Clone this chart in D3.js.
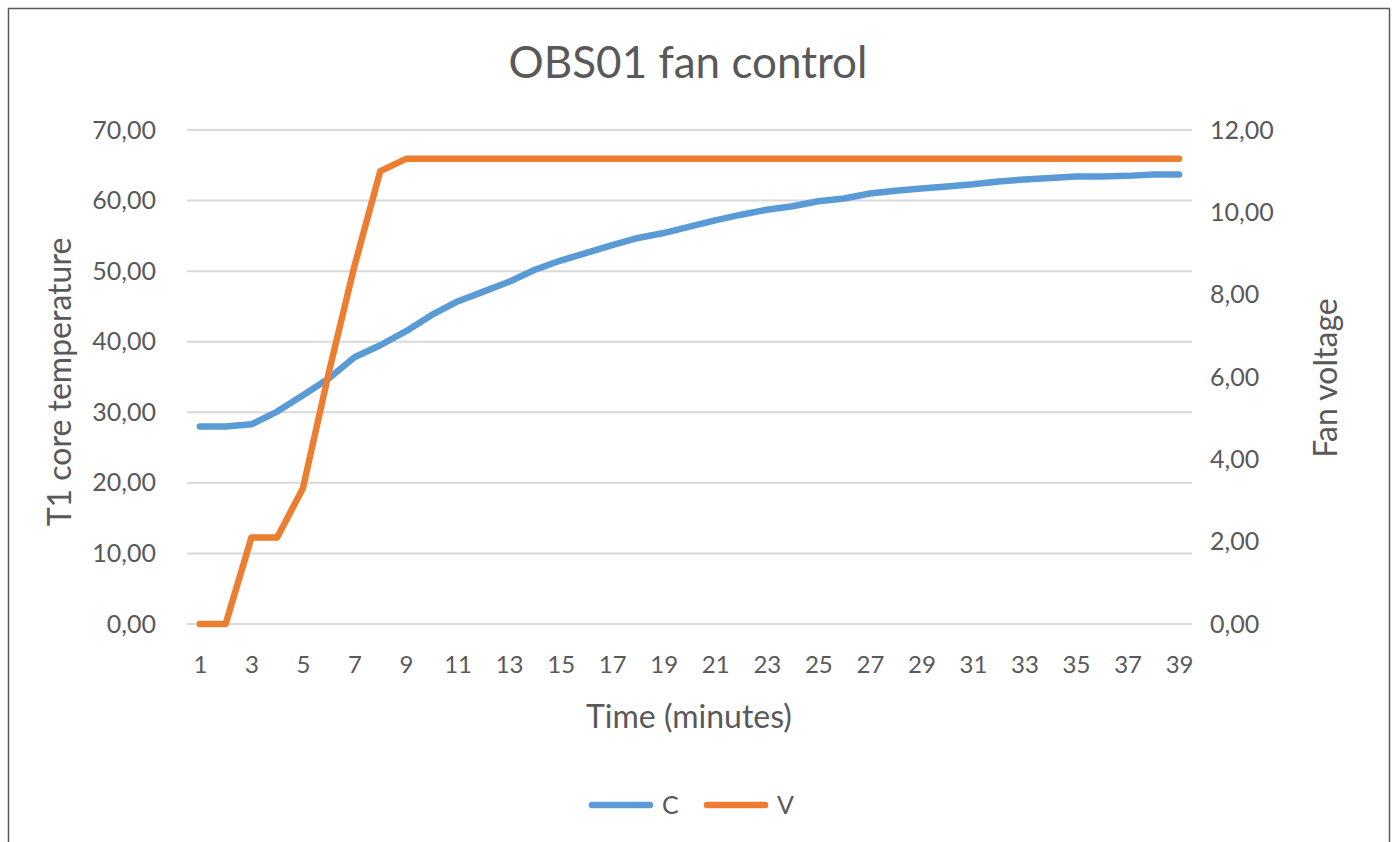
<!DOCTYPE html>
<html>
<head>
<meta charset="utf-8">
<script src="https://cdn.jsdelivr.net/npm/d3@7"></script>
<style>
  html, body { margin: 0; padding: 0; background: #fff; }
  svg { display: block; font-family: Lato, "Open Sans", sans-serif; }
  .tick text { fill: #595959; }
</style>
</head>
<body>
<svg id="chart" width="1392" height="842"></svg>
<script>
// minutes on the category axis
var minutes = [1, 2, 3, 4, 5, 6, 7, 8, 9, 10, 11, 12, 13, 14, 15, 16, 17, 18, 19, 20,
  21, 22, 23, 24, 25, 26, 27, 28, 29, 30, 31, 32, 33, 34, 35, 36, 37, 38, 39];

// C: T1 core temperature (left axis)
var tempC = [28.0, 28.0, 28.3, 30.1, 32.4, 34.8, 37.8, 39.5, 41.5, 43.8,
  45.7, 47.1, 48.5, 50.2, 51.5, 52.6, 53.7, 54.7, 55.4, 56.3,
  57.2, 58.0, 58.7, 59.2, 59.9, 60.3, 61.0, 61.4, 61.7, 62.0,
  62.3, 62.7, 63.0, 63.2, 63.4, 63.4, 63.5, 63.7, 63.7];

// V: fan voltage (right axis)
var voltV = [0, 0, 2.1, 2.1, 3.3, 6.1, 8.7, 11.0, 11.3, 11.3,
  11.3, 11.3, 11.3, 11.3, 11.3, 11.3, 11.3, 11.3, 11.3, 11.3,
  11.3, 11.3, 11.3, 11.3, 11.3, 11.3, 11.3, 11.3, 11.3, 11.3,
  11.3, 11.3, 11.3, 11.3, 11.3, 11.3, 11.3, 11.3, 11.3];

var leftTicks = [0, 10, 20, 30, 40, 50, 60, 70];
var rightTicks = [0, 2, 4, 6, 8, 10, 12];
var xTicks = minutes.filter(function(d) { return d % 2 === 1; });

var series = [
  { name: 'C', values: tempC, axis: 'left', color: '#5B9BD5' },
  { name: 'V', values: voltV, axis: 'right', color: '#ED7D31' }
];

var svg = d3.select('#chart');
var plot = { left: 187, right: 1192, top: 130, bottom: 624 };
var grey = '#595959';

// outer chart frame
svg.append('rect')
  .attr('x', 8.5).attr('y', 8.5)
  .attr('width', 1381).attr('height', 860)
  .attr('fill', '#fff')
  .attr('stroke', '#5a5a5a').attr('stroke-width', 1.5);

var x = d3.scalePoint()
  .domain(minutes)
  .range([plot.left, plot.right])
  .padding(0.5);

var yLeft = d3.scaleLinear().domain([0, 70]).range([plot.bottom, plot.top]);
var yRight = d3.scaleLinear().domain([0, 12]).range([plot.bottom, plot.top]);

var fmt = function(d) { return d.toFixed(2).replace('.', ','); };

// gridlines (primary axis)
svg.append('g')
  .selectAll('line')
  .data(leftTicks)
  .join('line')
  .attr('x1', plot.left).attr('x2', plot.right)
  .attr('y1', function(d) { return yLeft(d); })
  .attr('y2', function(d) { return yLeft(d); })
  .attr('stroke', '#d9d9d9').attr('stroke-width', 2);

// axes
var gLeft = svg.append('g')
  .attr('transform', 'translate(' + plot.left + ',0)')
  .call(d3.axisLeft(yLeft).tickValues(leftTicks).tickFormat(fmt).tickSize(0).tickPadding(31));

var gRight = svg.append('g')
  .attr('transform', 'translate(' + plot.right + ',0)')
  .call(d3.axisRight(yRight).tickValues(rightTicks).tickFormat(fmt).tickSize(0).tickPadding(18));

var gBottom = svg.append('g')
  .attr('transform', 'translate(0,' + plot.bottom + ')')
  .call(d3.axisBottom(x).tickValues(xTicks).tickSize(0).tickPadding(32));

[gLeft, gRight, gBottom].forEach(function(g) {
  g.select('.domain').remove();
  g.selectAll('text').attr('font-size', 25).attr('font-family', 'Lato, sans-serif');
});
gBottom.selectAll('text').attr('font-size', 24);

// lines
var line = function(s) {
  var yScale = s.axis === 'left' ? yLeft : yRight;
  return d3.line()
    .x(function(d, i) { return x(minutes[i]); })
    .y(function(d) { return yScale(d); })(s.values);
};

svg.append('g')
  .selectAll('path')
  .data(series)
  .join('path')
  .attr('d', line)
  .attr('fill', 'none')
  .attr('stroke', function(d) { return d.color; })
  .attr('stroke-width', 6.5)
  .attr('stroke-linejoin', 'round')
  .attr('stroke-linecap', 'round');

// title and axis titles
svg.append('text')
  .attr('x', 688).attr('y', 78)
  .attr('text-anchor', 'middle')
  .attr('font-size', 44)
  .attr('fill', grey)
  .text('OBS01 fan control');

svg.append('text')
  .attr('x', 689).attr('y', 728)
  .attr('text-anchor', 'middle')
  .attr('font-size', 32)
  .attr('fill', grey)
  .text('Time (minutes)');

svg.append('text')
  .attr('transform', 'translate(71,382) rotate(-90)')
  .attr('text-anchor', 'middle')
  .attr('font-size', 32)
  .attr('fill', grey)
  .text('T1 core temperature');

svg.append('text')
  .attr('transform', 'translate(1337,378) rotate(-90)')
  .attr('text-anchor', 'middle')
  .attr('font-size', 32)
  .attr('fill', grey)
  .text('Fan voltage');

// legend
var legend = svg.append('g')
  .selectAll('g')
  .data(series)
  .join('g')
  .attr('transform', function(d, i) { return 'translate(' + (592 + i * 115) + ',805)'; });

legend.append('line')
  .attr('x1', 0).attr('x2', 58)
  .attr('stroke', function(d) { return d.color; })
  .attr('stroke-width', 6.5)
  .attr('stroke-linecap', 'round');

legend.append('text')
  .attr('x', 70).attr('y', 9)
  .attr('font-size', 25)
  .attr('fill', grey)
  .text(function(d) { return d.name; });
</script>
</body>
</html>
